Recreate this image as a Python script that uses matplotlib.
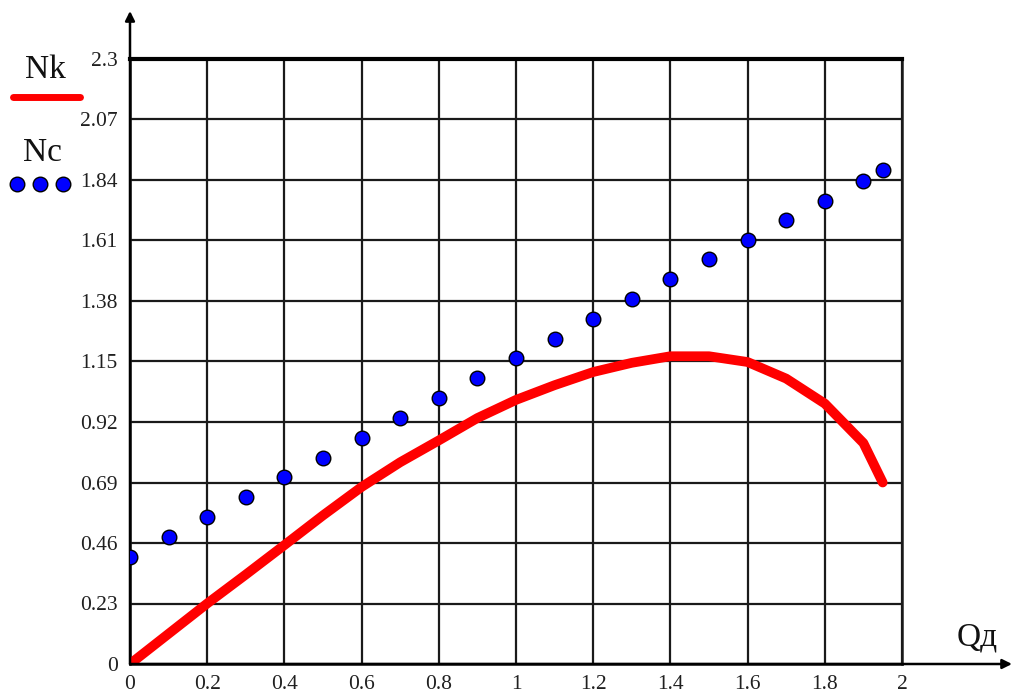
import matplotlib
matplotlib.use("Agg")
import matplotlib.pyplot as plt

# Flow rate values (x) and the two curves
q = [0.0, 0.1, 0.2, 0.3, 0.4, 0.5, 0.6, 0.7, 0.8, 0.9, 1.0,
     1.1, 1.2, 1.3, 1.4, 1.5, 1.6, 1.7, 1.8, 1.9, 1.95]
nk = [0.0, 0.115, 0.23, 0.34, 0.452, 0.565, 0.673, 0.767, 0.85, 0.935, 1.004,
      1.06, 1.11, 1.145, 1.17, 1.17, 1.148, 1.085, 0.99, 0.84, 0.69]
nc = [0.407, 0.483, 0.559, 0.635, 0.711, 0.785, 0.859, 0.935, 1.011, 1.087, 1.162,
      1.236, 1.311, 1.386, 1.464, 1.538, 1.612, 1.688, 1.762, 1.837, 1.878]

x_ticks = [0, 0.2, 0.4, 0.6, 0.8, 1.0, 1.2, 1.4, 1.6, 1.8, 2.0]
x_labels = ["0", "0.2", "0.4", "0.6", "0.8", "1", "1.2", "1.4", "1.6", "1.8", "2"]
y_ticks = [0, 0.23, 0.46, 0.69, 0.92, 1.15, 1.38, 1.61, 1.84, 2.07, 2.3]
y_labels = ["0", "0.23", "0.46", "0.69", "0.92", "1.15", "1.38", "1.61", "1.84", "2.07", "2.3"]

plt.rcParams["font.family"] = ["Liberation Serif", "DejaVu Serif"]

W, H = 1015, 690
fig = plt.figure(figsize=(W / 100, H / 100), dpi=100)
x0, x1, y0, y1 = 130, 902, 664, 59
ax = fig.add_axes([x0 / W, (H - y0) / H, (x1 - x0) / W, (y0 - y1) / H])
ax.set_xlim(0, 2)
ax.set_ylim(0, 2.3)

ax.set_xticks(x_ticks)
ax.set_xticklabels(x_labels)
ax.set_yticks(y_ticks)
ax.set_yticklabels(y_labels)
ax.tick_params(length=0, labelsize=15.5, colors="#202020")
ax.tick_params(axis="y", pad=9)
ax.tick_params(axis="x", pad=8)
ax.grid(True, color="#1a1a1a", linewidth=1.6)
ax.set_axisbelow(True)

for side in ["left", "bottom", "right"]:
    ax.spines[side].set_color("#1a1a1a")
    ax.spines[side].set_linewidth(1.8)
ax.spines["top"].set_color("black")
ax.spines["top"].set_linewidth(3.0)

ax.plot(q, nk, color="#ff0000", linewidth=7, solid_capstyle="round",
        solid_joinstyle="round", zorder=3)
ax.plot(q, nc, linestyle="none", marker="o", markersize=10.5,
        markerfacecolor="#0000ff", markeredgecolor="black", markeredgewidth=1.0,
        zorder=4)

# Axis arrows extending beyond the plot box
ax.annotate("", xy=(0, 2.3 + 48 / 605 * 2.3), xytext=(0, 0),
            xycoords="data", textcoords="data", annotation_clip=False,
            arrowprops=dict(arrowstyle="-|>", color="black", lw=1.8,
                            mutation_scale=14, shrinkA=0, shrinkB=0))
ax.annotate("", xy=(2 + 110 / 386, 0), xytext=(0, 0),
            xycoords="data", textcoords="data", annotation_clip=False,
            arrowprops=dict(arrowstyle="-|>", color="black", lw=1.8,
                            mutation_scale=14, shrinkA=0, shrinkB=0))

# Curve labels on the left
fig.text(45 / W, 1 - 70 / H, "Nk", fontsize=24, ha="center", va="center", color="#111111")
fig.add_artist(plt.Line2D([13 / W, 80 / W], [1 - 97 / H, 1 - 97 / H],
                          color="#ff0000", linewidth=5, solid_capstyle="round"))
fig.text(42 / W, 1 - 153 / H, "Nc", fontsize=24, ha="center", va="center", color="#111111")
fig.add_artist(plt.Line2D([17 / W, 40 / W, 63 / W], [1 - 184 / H] * 3,
                          linestyle="none", marker="o", markersize=10.5,
                          markerfacecolor="#0000ff", markeredgecolor="black",
                          markeredgewidth=1.0))

# Horizontal axis title
fig.text(977 / W, 1 - 637 / H, "Qд", fontsize=24, ha="center", va="center", color="#111111")

fig.savefig("out.png", dpi=100, facecolor="white")
